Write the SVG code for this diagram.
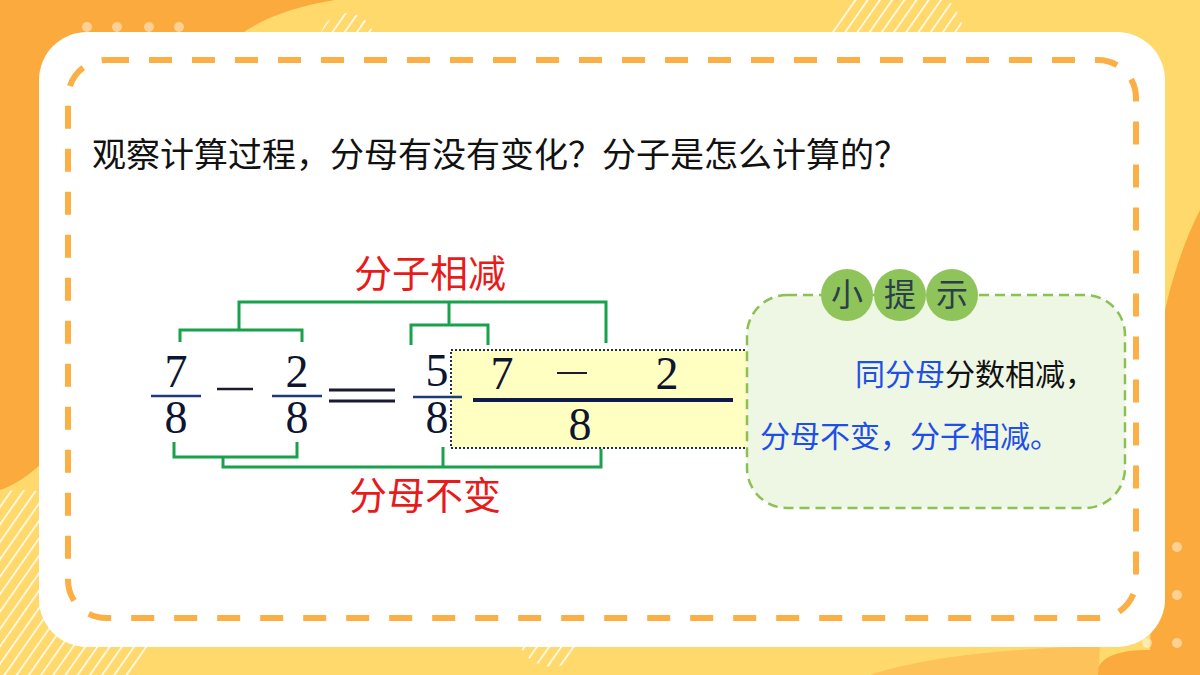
<svg xmlns="http://www.w3.org/2000/svg" width="1200" height="675" viewBox="0 0 1200 675">
<style>
.cjk{font-family:"Noto Sans CJK SC",sans-serif}
.num{font-family:"Liberation Serif",serif;font-size:46px;fill:#0d1530;text-anchor:middle}
.bar{stroke:#1f3a78;stroke-width:2.5}
.br{fill:none;stroke:#19a24c;stroke-width:3;stroke-linejoin:miter}
.dot{fill:#ffffff;fill-opacity:0.45}
.red{fill:#e81a1a;font-size:38px;text-anchor:middle}
.blue{fill:#1f4fe6}
.circ{fill:#8fc45a}
.ct{fill:#2b3e4c;font-size:32px;text-anchor:middle}
</style>
<defs>
<pattern id="stripes" width="10" height="10" patternUnits="userSpaceOnUse" patternTransform="rotate(35)">
<rect width="10" height="10" fill="none"/>
<line x1="0" y1="0" x2="0" y2="10" stroke="#ffffff" stroke-width="3"/>
</pattern>
</defs>
<!-- background -->
<rect width="1200" height="675" fill="#ffd96c"/>
<path d="M0 0 H335 C285 8 248 24 228 46 L60 46 L45 460 C30 475 15 485 0 490 Z" fill="#fbab3d"/>
<path d="M1200 210 C1182 245 1168 290 1160 335 L1150 650 C1120 650 1100 655 1095 675 L1200 675 Z" fill="#fbab3d"/>
<path d="M870 675 C930 655 1020 648 1100 646 L1098 675 Z" fill="#fdc35a"/>
<circle cx="347" cy="40" r="27" fill="url(#stripes)"/>
<circle cx="898" cy="46" r="68" fill="url(#stripes)"/>
<circle cx="20" cy="620" r="130" fill="url(#stripes)"/>
<circle cx="552" cy="632" r="35" fill="url(#stripes)"/>
<circle class="dot" cx="87" cy="27" r="5"/>
<circle class="dot" cx="117" cy="27" r="5"/>
<circle class="dot" cx="149" cy="27" r="5"/>
<circle class="dot" cx="179" cy="27" r="5"/>
<circle class="dot" cx="1177" cy="547" r="5"/>
<circle class="dot" cx="1177" cy="595" r="5"/>
<circle class="dot" cx="1147" cy="643" r="5"/>
<circle class="dot" cx="1177" cy="643" r="5"/>
<!-- card -->
<rect x="39" y="32" width="1126" height="615" rx="48" fill="#ffffff"/>
<rect x="68" y="60" width="1068" height="558" rx="38" fill="none" stroke="#fbaf44" stroke-width="6" stroke-dasharray="23 20"/>

<g id="question">
<text class="cjk" x="92" y="167" font-size="34" fill="#111">观察计算过程，分母有没有变化？分子是怎么计算的？</text>
</g>

<g id="connectors">
<path class="br" d="M180 342 V330 H302 V342"/>
<path class="br" d="M239 330 V302 H606 V343"/>
<path class="br" d="M449 302 V325"/>
<path class="br" d="M411 345 V325 H488 V345"/>
<path class="br" d="M174 442 V457 H297 V442"/>
<path class="br" d="M223 457 V467 H601 V449"/>
<path class="br" d="M443 447 V467"/>
</g>

<g id="label-top"><text class="cjk red" x="430" y="287">分子相减</text></g>
<g id="label-bottom"><text class="cjk red" x="425" y="509">分母不变</text></g>

<g id="fraction-7-8">
<text class="num" x="176" y="387">7</text>
<line class="bar" x1="151" y1="396" x2="201" y2="396"/>
<text class="num" x="176" y="433">8</text>
</g>
<g id="minus"><line x1="217" y1="389" x2="253" y2="389" stroke="#1a1a30" stroke-width="2.5"/></g>
<g id="fraction-2-8">
<text class="num" x="297" y="387">2</text>
<line class="bar" x1="272" y1="396" x2="322" y2="396"/>
<text class="num" x="297" y="433">8</text>
</g>
<g id="equals">
<line x1="329" y1="390" x2="395" y2="390" stroke="#1a1a30" stroke-width="3"/>
<line x1="329" y1="401" x2="395" y2="401" stroke="#1a1a30" stroke-width="3"/>
</g>

<g id="box">
<rect x="451" y="350" width="298" height="98" fill="#ffffc2" stroke="#1f2d5a" stroke-width="2" stroke-dasharray="2 2"/>
<text class="num" x="502" y="389">7</text>
<line x1="557" y1="373" x2="587" y2="373" stroke="#1a1a30" stroke-width="2"/>
<text class="num" x="667" y="389">2</text>
<line x1="473" y1="400" x2="733" y2="400" stroke="#0e1a4a" stroke-width="4"/>
<text class="num" x="580" y="440">8</text>
</g>

<g id="fraction-5-8">
<text class="num" x="437" y="386">5</text>
<line class="bar" x1="413" y1="397" x2="462" y2="397"/>
<text class="num" x="437" y="433">8</text>
</g>

<g id="tip">
<rect x="747" y="295" width="378" height="213" rx="40" fill="#eef6e4" stroke="#8cc152" stroke-width="2.5" stroke-dasharray="10 6"/>
<circle class="circ" cx="847" cy="295" r="26"/>
<circle class="circ" cx="900" cy="295" r="26"/>
<circle class="circ" cx="952" cy="295" r="26"/>
<text class="cjk ct" x="847" y="306">小</text>
<text class="cjk ct" x="900" y="306">提</text>
<text class="cjk ct" x="952" y="306">示</text>
<text class="cjk" x="855" y="385" font-size="30"><tspan class="blue">同分母</tspan><tspan fill="#111">分数相减，</tspan></text>
<text class="cjk blue" x="760" y="447" font-size="30">分母不变，分子相减。</text>
</g>
</svg>
